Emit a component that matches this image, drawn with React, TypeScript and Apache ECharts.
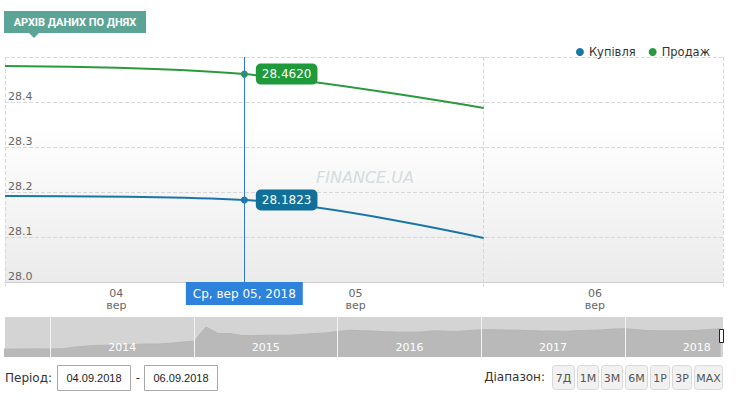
import React, { useEffect, useRef } from "react";
import * as echarts from "echarts";

// ---- data ----
const dayIndex = [0, 1, 2];
const dayLabels = ["04", "05", "06"];
const monthLabel = "вер";
const buyValues = [28.191, 28.1823, 28.098];
const sellValues = [28.48, 28.462, 28.3867];
const seriesNames = ["Купівля", "Продаж"];
const hoverIndex = 1;
const hoverDateLabel = "Ср, вер 05, 2018";
const yMin = 28.0;
const yMax = 28.5;
const yStep = 0.1;

const navStart = -4; // Sep 2013, months relative to Jan 2014
const navRates = [
  8.0, 8.0, 8.1, 8.1,
  8.0, 8.3, 9.8, 11.0, 11.6, 11.8, 11.8, 12.5, 13.0, 13.0, 13.8, 15.0,
  15.8, 30.0, 23.5, 23.4, 21.5, 21.3, 21.8, 21.7, 21.8, 22.6, 23.5, 24.0,
  25.5, 26.8, 26.3, 26.0, 25.3, 24.9, 24.8, 25.0, 26.2, 25.8, 25.6, 26.5,
  27.2, 27.2, 27.0, 26.8, 26.4, 26.0, 26.0, 25.7, 26.3, 26.8, 27.0, 28.0,
  28.3, 27.3, 26.4, 26.2, 26.2, 26.2, 26.7, 27.5, 28.3,
];
const navYears = ["2014", "2015", "2016", "2017", "2018"];
const navYearStarts = [0, 12, 24, 36, 48];

const titleText = "АРХІВ ДАНИХ ПО ДНЯХ";
const periodLabel = "Період:";
const periodFrom = "04.09.2018";
const periodTo = "06.09.2018";
const rangeLabel = "Діапазон:";
const rangeButtons = ["7Д", "1М", "3М", "6М", "1Р", "3Р", "MAX"];
const watermark = "FINANCE.UA";

// ---- styles ----
const BLUE = "#1a77a5";
const BLUE_BOX = "#10709a";
const GREEN = "#2a9a3f";
const GREEN_BOX = "#1f9a3b";
const FONT = "DejaVu Sans";

const buttonXs = [552, 577, 601, 625, 650, 672, 694];
const buttonWs = [22, 21, 21, 22, 19, 19, 28];

export default function App() {
  const ref = useRef<HTMLDivElement>(null);

  useEffect(() => {
    if (!ref.current) return;
    const chart = echarts.init(ref.current, null, { renderer: "svg" });

    const makeSeries = (name: string, values: number[], color: string, boxColor: string, extra: any) => ({
      type: "line",
      name,
      xAxisIndex: 0,
      yAxisIndex: 0,
      smooth: 0.35,
      symbol: "circle",
      symbolSize: (_v: any, p: any) => (p.dataIndex === hoverIndex ? 7 : 0),
      showSymbol: true,
      lineStyle: { color, width: 2 },
      itemStyle: { color },
      z: 3,
      data: values.map((v, i) =>
        i === hoverIndex
          ? {
              value: [dayIndex[i], v],
              label: {
                show: true,
                position: "right",
                distance: 8,
                formatter: (p: any) => p.value[1].toFixed(4),
                backgroundColor: boxColor,
                color: "#fff",
                borderRadius: 5,
                padding: [4, 6, 3, 6],
                lineHeight: 14,
                fontSize: 12,
                fontFamily: FONT,
              },
            }
          : { value: [dayIndex[i], v] }
      ),
      ...extra,
    });

    const graphicEls: any[] = [
      { type: "rect", shape: { x: 4, y: 11, width: 142, height: 22 }, style: { fill: "#5ca596" } },
      { type: "polygon", shape: { points: [[29, 33], [39, 33], [34, 38]] }, style: { fill: "#5ca596" } },
      {
        type: "text", x: 75, y: 22,
        style: { text: titleText, fill: "#fff", font: `bold 11px Roboto`, align: "center", verticalAlign: "middle" },
      },
      {
        type: "text", x: 365, y: 177, z: 0,
        style: { text: watermark, fill: "#d3dce0", font: `italic 16px ${FONT}`, align: "center", verticalAlign: "middle" },
      },
      {
        type: "text", x: 5, y: 378,
        style: { text: periodLabel, fill: "#333", font: `12px ${FONT}`, align: "left", verticalAlign: "middle" },
      },
      { type: "rect", shape: { x: 57.5, y: 365.5, width: 73, height: 25 }, style: { fill: "#fff", stroke: "#a9a9a9", lineWidth: 1 } },
      {
        type: "text", x: 94, y: 378,
        style: { text: periodFrom, fill: "#222", font: `11px 'Liberation Sans'`, align: "center", verticalAlign: "middle" },
      },
      {
        type: "text", x: 138, y: 378,
        style: { text: "-", fill: "#333", font: `12px ${FONT}`, align: "center", verticalAlign: "middle" },
      },
      { type: "rect", shape: { x: 144.5, y: 365.5, width: 73, height: 25 }, style: { fill: "#fff", stroke: "#a9a9a9", lineWidth: 1 } },
      {
        type: "text", x: 181, y: 378,
        style: { text: periodTo, fill: "#222", font: `11px 'Liberation Sans'`, align: "center", verticalAlign: "middle" },
      },
      {
        type: "text", x: 545, y: 377,
        style: { text: rangeLabel, fill: "#333", font: `12px ${FONT}`, align: "right", verticalAlign: "middle" },
      },
      // navigator handle
      { type: "rect", shape: { x: 719.5, y: 329.5, width: 4, height: 13 }, style: { fill: "#fff", stroke: "#222", lineWidth: 1 }, z: 10 },
    ];
    rangeButtons.forEach((b, i) => {
      graphicEls.push({
        type: "rect",
        shape: { x: buttonXs[i] + 0.5, y: 365.5, width: buttonWs[i], height: 24, r: 3 },
        style: { fill: "#f1f1f1", stroke: "#d9d9d9", lineWidth: 1 },
      });
      graphicEls.push({
        type: "text",
        x: buttonXs[i] + buttonWs[i] / 2 + 0.5,
        y: 378,
        style: { text: b, fill: "#555", font: `11px ${FONT}`, align: "center", verticalAlign: "middle" },
      });
    });

    const option: any = {
      animation: false,
      backgroundColor: "#fff",
      legend: {
        data: seriesNames,
        right: 22,
        top: 41,
        icon: "circle",
        itemWidth: 8,
        itemHeight: 8,
        itemGap: 13,
        textStyle: { color: "#333", fontSize: 11.5, fontFamily: FONT },
      },
      grid: [
        {
          left: 5, right: 14, top: 57, bottom: 131,
          show: true, borderWidth: 0,
          backgroundColor: new echarts.graphic.LinearGradient(0, 0, 0, 1, [
            { offset: 0, color: "#ffffff" },
            { offset: 0.3, color: "#ffffff" },
            { offset: 1, color: "#ebebeb" },
          ]),
        },
        { left: 5, right: 14, top: 317, height: 40, show: true, borderWidth: 0, backgroundColor: "#d4d4d4" },
      ],
      xAxis: [
        {
          type: "value", gridIndex: 0, min: 0, max: 3, interval: 1,
          axisLine: { show: true, lineStyle: { color: "#cfcfcf" } },
          axisTick: { show: true, length: 5, lineStyle: { color: "#dcdcdc" } },
          splitLine: { show: true, lineStyle: { color: "#d8d8d8", type: "dashed" } },
          axisLabel: {
            customValues: dayIndex.map((d) => d + 0.465),
            formatter: (v: number) => `${dayLabels[Math.floor(v)]}\n${monthLabel}`,
            color: "#666", fontSize: 11, lineHeight: 12, margin: 5, fontFamily: FONT,
          },
        },
        {
          type: "value", gridIndex: 1, min: -3.8, max: 56.2,
          axisLine: { show: false }, axisTick: { show: false }, splitLine: { show: false },
          axisLabel: {
            inside: true,
            customValues: navYearStarts.map((s) => s + 6),
            formatter: (v: number) => navYears[Math.round((v - 6) / 12)],
            color: "#fff", fontSize: 11, margin: 4, fontFamily: FONT,
          },
          z: 5,
        },
      ],
      yAxis: [
        {
          type: "value", gridIndex: 0, min: yMin, max: yMax, interval: yStep,
          axisLine: { show: false }, axisTick: { show: false },
          splitLine: { show: true, lineStyle: { color: "#d8d8d8", type: "dashed" } },
          axisLabel: {
            inside: true, margin: 3, verticalAlign: "bottom", showMaxLabel: false,
            color: "#666", fontSize: 11, fontFamily: FONT,
            formatter: (v: number) => v.toFixed(1),
          },
        },
        { type: "value", gridIndex: 1, min: 0, max: 40, show: false },
      ],
      series: [
        makeSeries(seriesNames[0], buyValues, BLUE, BLUE_BOX, {
          markLine: {
            silent: true,
            symbol: ["none", "none"],
            lineStyle: { color: "#2f7bc9", width: 1, type: "solid" },
            label: {
              show: true,
              position: "start",
              distance: 0,
              formatter: hoverDateLabel,
              backgroundColor: "#2d82dc",
              color: "#fff",
              padding: [6, 7, 5, 7],
              fontSize: 12,
              fontFamily: FONT,
            },
            data: [{ xAxis: dayIndex[hoverIndex] }],
          },
        }),
        makeSeries(seriesNames[1], sellValues, GREEN, GREEN_BOX, {}),
        {
          type: "line",
          name: "nav",
          xAxisIndex: 1,
          yAxisIndex: 1,
          symbol: "none",
          lineStyle: { color: "#b6b6b6", width: 1 },
          areaStyle: { color: "#b9b9b9", opacity: 1 },
          data: navRates.map((r, i) => [navStart + i, r]),
          markLine: {
            silent: true,
            symbol: ["none", "none"],
            label: { show: false },
            lineStyle: { color: "#f4f4f4", width: 1, type: "solid" },
            data: navYearStarts.map((s) => ({ xAxis: s })),
          },
        },
      ],
      graphic: { elements: graphicEls },
    };

    chart.setOption(option);
    return () => chart.dispose();
  }, []);

  return (
    <div
      ref={ref}
      style={{ position: "absolute", left: 0, top: 0, width: 737, height: 413, background: "#fff" }}
    />
  );
}
